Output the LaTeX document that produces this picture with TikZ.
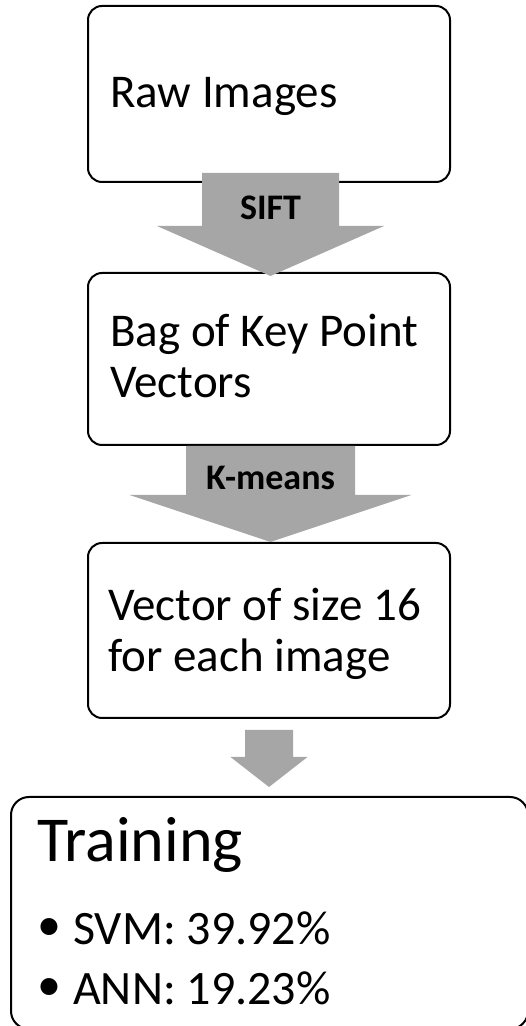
\documentclass[tikz,border=0pt]{standalone}
\usepackage{fontspec}
\setmainfont{Carlito}
\usepackage{tikz}
\usetikzlibrary{calc}
\definecolor{arrowgray}{RGB}{166,166,166}

\begin{document}
\begin{tikzpicture}[x=1pt, y=1pt,
				stagebox/.style={draw, line width=2pt, rounded corners=14pt, minimum width=362pt, inner sep=0pt},
				boxtext/.style={font=\fontsize{47}{51}\selectfont, align=left, inner sep=0pt, anchor=base west},
				itemtext/.style={font=\fontsize{48}{60}\selectfont, inner sep=0pt, anchor=base west},
				steplabel/.style={font=\fontsize{36}{40}\selectfont\bfseries, inner sep=0pt, anchor=base},
				arrowfill/.style={fill=arrowgray}]
				\path[use as bounding box] (0,0) rectangle (526,1026);
				\clip (0,0) rectangle (526,1026);
				% boxes
				\node at (269,932) (raw) [stagebox, minimum height=176pt] {};
				\node at (269,667) (bag) [stagebox, minimum height=172pt] {};
				\node at (269,395.5) (vec) [stagebox, minimum height=175pt] {};
				\node at (269.5,113) (train) [draw, line width=2pt, rounded corners=18pt, minimum width=517pt, minimum height=232pt] {};
				% block arrows
				\coordinate (s1) at ($(raw.south)+(1.5,10)$);
				\coordinate (t1) at ($(bag.north)+(1.5,-4)$);
				\fill[arrowfill] ($(s1)+(-68.5,0)$) -- ($(s1)+(68.5,0)$) -- ($(t1)+(68.5,50)$) -- ($(t1)+(113.5,50)$) -- (t1) -- ($(t1)+(-113.5,50)$) -- ($(t1)+(-68.5,50)$) -- cycle;
				\coordinate (s2) at ($(bag.south)+(1.5,0)$);
				\coordinate (t2) at ($(vec.north)+(1.5,0)$);
				\fill[arrowfill] ($(s2)+(-84.5,0)$) -- ($(s2)+(84.5,0)$) -- ($(t2)+(84.5,47)$) -- ($(t2)+(141,47)$) -- (t2) -- ($(t2)+(-141,47)$) -- ($(t2)+(-84.5,47)$) -- cycle;
				\coordinate (s3) at ($(vec.south)+(0,-11)$);
				\coordinate (t3) at ($(train.north)+(-0.5,9)$);
				\fill[arrowfill] ($(s3)+(-24,0)$) -- ($(s3)+(24,0)$) -- ($(t3)+(24,30)$) -- ($(t3)+(38.5,30)$) -- (t3) -- ($(t3)+(-38.5,30)$) -- ($(t3)+(-24,30)$) -- cycle;
				\node at (270.5,806) (sift) [steplabel] {SIFT};
				\node at (270.5,536) (kmeans) [steplabel] {K-means};
				% texts
				\node at (110,918) (rawtxt) [boxtext] {Raw Images};
				\node at (110,628) (bagtxt) [boxtext] {Bag of Key Point\\Vectors};
				\node at (108,354) (vectxt) [boxtext] {Vector of size 16\\for each image};
				\node at (37,164) (traintxt) [font=\fontsize{64}{70}\selectfont, inner sep=0pt, anchor=base west] {Training};
				\node at (49,96) (dot1) [font=\fontsize{48}{60}\selectfont, inner sep=0pt] {•};
				\node at (73,81) (svm) [itemtext] {SVM: 39.92\%};
				\node at (49,36) (dot2) [font=\fontsize{48}{60}\selectfont, inner sep=0pt] {•};
				\node at (73,21) (ann) [itemtext] {ANN: 19.23\%};
			\end{tikzpicture}
\end{document}
